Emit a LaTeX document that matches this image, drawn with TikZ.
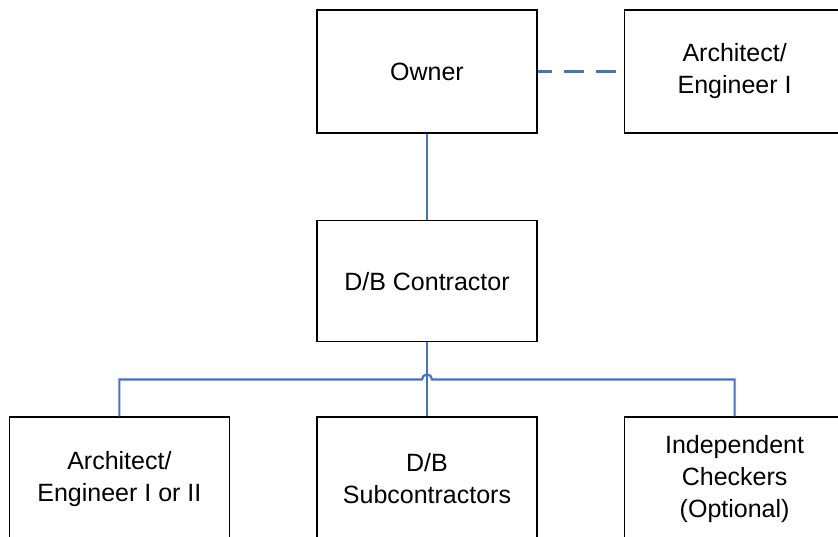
\documentclass[tikz,border=0pt]{standalone}
\usepackage{fontspec}
\setmainfont{Liberation Sans}
\usepackage{tikz}
\usetikzlibrary{positioning,calc}
\definecolor{linkblue}{HTML}{4472C4}

\begin{document}
\begin{tikzpicture}[
  box/.style={draw, line width=0.8pt, align=center, inner sep=0pt,
    minimum width=110pt, minimum height=61.5pt,
    font=\fontsize{12.5pt}{16pt}\selectfont},
  link/.style={linkblue, line width=1.1pt},
  node distance=43pt
]
\useasboundingbox (-213.5pt,35.75pt) rectangle (205.5pt,-232.25pt);
\clip (-213.5pt,35.75pt) rectangle (205.5pt,-232.25pt);

\node[box] (owner) at (0,0) {Owner};
\node[box, right=of owner] (ae) {Architect/\\Engineer I};
\node[box, below=of owner, minimum height=60.5pt] (dbc) {D/B Contractor};
\node[box, below=37pt of dbc] (sub) {D/B\\Subcontractors};
\node[box, left=of sub] (aeb) {Architect/\\Engineer I or II};
\node[box, right=of sub] (chk) {Independent\\Checkers\\(Optional)};
\coordinate (bus) at ($(dbc.south)!0.5!(sub.north)$);

\draw[link, dash pattern=on 10pt off 6pt, dash phase=3pt] (owner) -- (ae);
\draw[link] (owner) -- (dbc);
\draw[link] (dbc) -- (sub);
\draw[link] (aeb.north) |- ([xshift=-2.5pt]bus)
  arc[start angle=180, end angle=0, radius=2.5pt] -| (chk.north);
\end{tikzpicture}
\end{document}
